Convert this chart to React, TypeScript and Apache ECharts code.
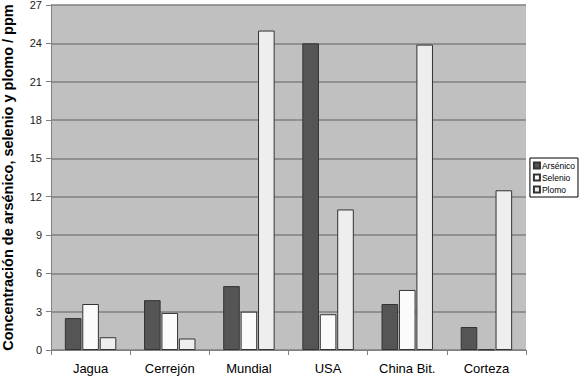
import React, { useEffect, useRef } from "react";
import * as echarts from "echarts";

const categories = ["Jagua", "Cerrejón", "Mundial", "USA", "China Bit.", "Corteza"];
const arsenico = [2.5, 3.9, 5.0, 24.0, 3.6, 1.8];
const selenio = [3.6, 2.9, 3.0, 2.8, 4.7, 0.05];
const plomo = [1.0, 0.9, 25.0, 11.0, 23.9, 12.5];
const seriesNames = ["Arsénico", "Selenio", "Plomo"];

export default function App() {
  const ref = useRef<HTMLDivElement>(null);
  useEffect(() => {
    if (!ref.current) return;
    const chart = echarts.init(ref.current, undefined, { renderer: "svg" });
    const font = "Liberation Sans, Arial, sans-serif";
    const colors = ["#555555", "#fbfbfb", "#eeeeee"];
    const data = [arsenico, selenio, plomo];
    chart.setOption({
      animation: false,
      textStyle: { fontFamily: font },
      grid: {
        left: 51, right: 54, top: 5, bottom: 30,
        containLabel: false, outerBoundsMode: "none",
        show: true, backgroundColor: "#c0c0c0", borderWidth: 0,
      },
      legend: {
        orient: "vertical",
        right: 2,
        top: 158,
        itemWidth: 6,
        itemHeight: 6,
        itemGap: 3,
        padding: [3, 3, 3, 3],
        borderColor: "#000",
        borderWidth: 1,
        backgroundColor: "#fff",
        borderRadius: 0,
        icon: "rect",
        textStyle: { fontSize: 8.5, color: "#000", fontFamily: font, padding: [0, 0, 0, -3] },
        data: seriesNames,
      },
      xAxis: {
        type: "category",
        data: categories,
        axisLine: { lineStyle: { color: "#808080", width: 1 } },
        axisTick: { show: true, length: 5, lineStyle: { color: "#808080" } },
        axisLabel: { fontSize: 13, color: "#000", margin: 12, fontFamily: font },
      },
      yAxis: {
        type: "value",
        min: 0,
        max: 27,
        interval: 3,
        name: "Concentración de arsénico, selenio y plomo / ppm",
        nameLocation: "middle",
        nameGap: 36,
        nameTextStyle: { fontSize: 14.5, fontWeight: "bold", color: "#000", fontFamily: font },
        axisLine: { show: true, lineStyle: { color: "#808080", width: 1 } },
        axisTick: { show: true, length: 5, lineStyle: { color: "#808080" } },
        axisLabel: { fontSize: 11, color: "#222", margin: 9, fontFamily: font },
        splitLine: { show: true, lineStyle: { color: "#808080", width: 1.5 } },
      },
      series: seriesNames.map((n, i) => ({
        name: n,
        type: "bar",
        data: data[i],
        barGap: "5%",
        barCategoryGap: "35%",
        itemStyle: { color: colors[i], borderColor: "#333", borderWidth: 1 },
      })),
    });
    return () => chart.dispose();
  }, []);
  return <div ref={ref} style={{ position: "absolute", left: 0, top: 0, width: 580, height: 380 }} />;
}
